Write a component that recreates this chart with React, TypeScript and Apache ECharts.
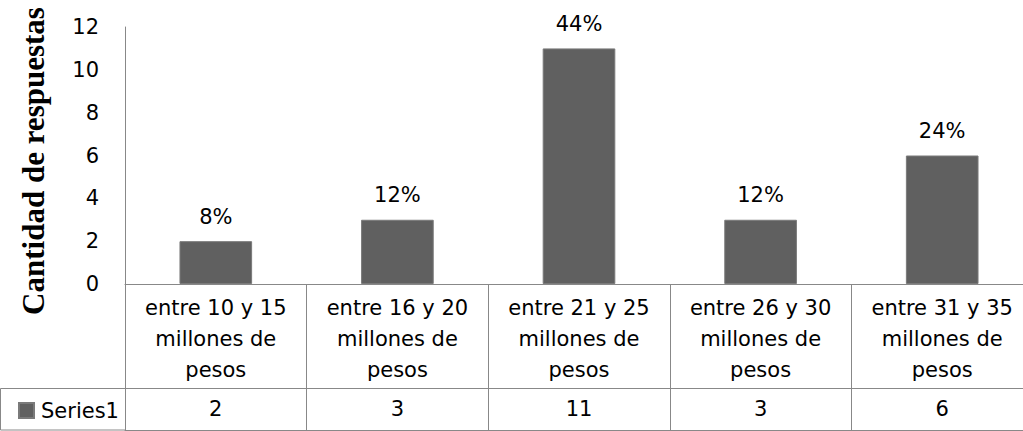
import React, { useEffect, useRef } from "react";
import * as echarts from "echarts";

const categories = [
  "entre 10 y 15 millones de pesos",
  "entre 16 y 20 millones de pesos",
  "entre 21 y 25 millones de pesos",
  "entre 26 y 30 millones de pesos",
  "entre 31 y 35 millones de pesos",
];
const seriesName = "Series1";
const values = [2, 3, 11, 3, 6];
const yTitle = "Cantidad de respuestas";

const FONT = "DejaVu Sans";
const FS = 21;
const LINE = "#888888";

export default function App() {
  const ref = useRef<HTMLDivElement>(null);
  useEffect(() => {
    if (!ref.current) return;
    const chart = echarts.init(ref.current, undefined, { renderer: "svg" });
    const total = values.reduce((a, b) => a + b, 0);
    const wrap = (s: string) => s.replace(" millones de ", "\nmillones de\n");
    chart.setOption({
      animation: false,
      textStyle: { fontFamily: FONT, color: "#000" },
      legend: {
        left: 13,
        top: 395,
        itemWidth: 15,
        itemHeight: 15,
        itemGap: 6,
        icon: "rect",
        textStyle: { fontFamily: FONT, fontSize: FS, color: "#000", padding: [0, 0, 0, 2] },
        data: [seriesName],
      },
      grid: { left: 125, right: 7, top: 27, bottom: 147, containLabel: false },
      xAxis: [
        {
          type: "category",
          data: categories,
          position: "bottom",
          axisLine: { show: true, lineStyle: { color: LINE } },
          axisTick: { show: true, length: 104, lineStyle: { color: LINE } },
          axisLabel: {
            interval: 0,
            margin: 8,
            fontFamily: FONT,
            fontSize: FS,
            lineHeight: 31,
            color: "#000",
            formatter: (v: string) => wrap(v),
          },
        },
        {
          type: "category",
          data: categories,
          position: "bottom",
          offset: 104,
          axisLine: { show: true, lineStyle: { color: LINE } },
          axisTick: { show: true, length: 42, lineStyle: { color: LINE } },
          axisLabel: {
            interval: 0,
            margin: 10,
            fontFamily: FONT,
            fontSize: FS,
            lineHeight: 22,
            color: "#000",
            formatter: (_v: string, i: number) => String(values[i]),
          },
        },
        {
          type: "category",
          data: categories,
          position: "bottom",
          offset: 146,
          axisLine: { show: true, lineStyle: { color: LINE } },
          axisTick: { show: false },
          axisLabel: { show: false },
        },
      ],
      yAxis: {
        type: "value",
        min: 0,
        max: 12,
        interval: 2,
        axisLine: { show: true, lineStyle: { color: LINE } },
        axisTick: { show: false },
        splitLine: { show: false },
        axisLabel: { margin: 26, fontFamily: FONT, fontSize: FS, color: "#000" },
      },
      graphic: [
        {
          type: "text",
          x: 33,
          y: 161,
          rotation: Math.PI / 2,
          style: {
            text: yTitle,
            fontFamily: "Liberation Serif",
            fontWeight: "bold",
            fontSize: 31,
            fill: "#000",
            textAlign: "center",
            textVerticalAlign: "middle",
          },
        },
        {
          type: "rect",
          shape: { x: 0.5, y: 388.5, width: 125, height: 41.5 },
          style: { fill: "none", stroke: LINE, lineWidth: 1 },
        },
      ],
      series: [
        {
          name: seriesName,
          type: "bar",
          data: values,
          barWidth: "40%",
          itemStyle: { color: "#606060", borderColor: "#7a7a7a", borderWidth: 1 },
          label: {
            show: true,
            position: "top",
            distance: 14,
            fontFamily: FONT,
            fontSize: FS,
            color: "#000",
            formatter: (p: any) => Math.round((p.value / total) * 100) + "%",
          },
        },
      ],
    });
    return () => chart.dispose();
  }, []);
  return (
    <div style={{ position: "fixed", left: 0, top: 0, width: 1023, height: 431, overflow: "hidden", background: "#fff" }}>
      <div ref={ref} style={{ width: 1040, height: 431 }} />
    </div>
  );
}
